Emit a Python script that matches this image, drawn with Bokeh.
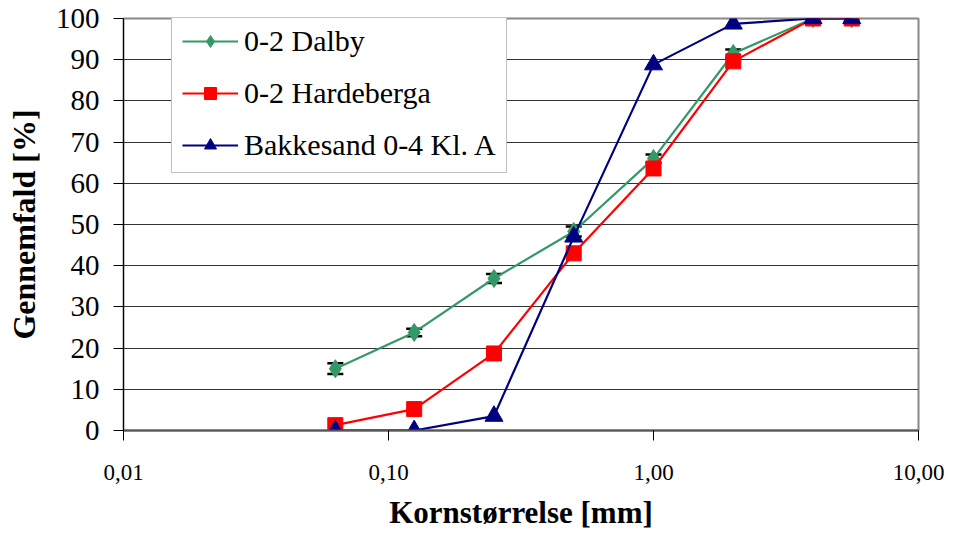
from bokeh.plotting import figure
from bokeh.models import (Range1d, FixedTicker, Legend, LegendItem, Whisker,
                          ColumnDataSource, TeeHead)
from bokeh.embed import file_html
from bokeh.resources import INLINE

sizes = [0.063, 0.125, 0.25, 0.5, 1.0, 2.0, 4.0, 5.6]
dalby = [15.0, 23.8, 36.9, 48.3, 66.0, 91.5, 100.0, 100.0]
dalby_err = [1.3, 0.9, 1.1, 1.2, 1.0, 1.0, 1.0, 1.0]
hardeberga = [1.3, 5.2, 18.7, 43.0, 63.6, 89.6, 100.0, 100.0]
bakkesand = [0.0, 0.0, 3.5, 47.0, 88.8, 98.7, 100.0, 100.0]

x_ticks = [0.01, 0.1, 1, 10]
x_tick_labels = ["0,01", "0,10", "1,00", "10,00"]
y_ticks = [0, 10, 20, 30, 40, 50, 60, 70, 80, 90, 100]

names = ["0-2 Dalby", "0-2 Hardeberga", "Bakkesand 0-4 Kl. A"]
colors = ["#339966", "#FF0000", "#000080"]

FONT = "Liberation Serif"

p = figure(width=956, height=535, x_axis_type="log",
           x_range=Range1d(0.01, 10), y_range=Range1d(0, 100),
           output_backend="svg", toolbar_location=None,
           min_border_left=123, min_border_right=38,
           min_border_top=18, min_border_bottom=105)
p.outline_line_color = "#888888"
p.outline_line_width = 2
p.background_fill_color = "white"
p.border_fill_color = "white"

p.xaxis.ticker = FixedTicker(ticks=x_ticks, minor_ticks=[])
p.xaxis.major_label_overrides = {t: l for t, l in zip(x_ticks, x_tick_labels)}
p.yaxis.ticker = FixedTicker(ticks=y_ticks, minor_ticks=[])
p.xgrid.visible = False
p.ygrid.ticker = FixedTicker(ticks=y_ticks)
p.ygrid.grid_line_color = "#333333"
p.ygrid.grid_line_width = 1

for ax in (p.xaxis[0], p.yaxis[0]):
    ax.major_tick_in = 0
    ax.major_tick_out = 10
    ax.minor_tick_in = 0
    ax.minor_tick_out = 0
    ax.major_label_text_font = FONT
    ax.axis_label_text_font = FONT
    ax.axis_label_text_font_style = "bold"
    ax.axis_label_text_color = "black"
    ax.major_label_text_color = "black"
    ax.major_tick_line_color = "black"

p.yaxis.axis_line_color = "black"
p.yaxis.axis_line_width = 1
p.xaxis.axis_line_color = "#555555"
p.xaxis.axis_line_width = 2

p.xaxis.axis_label = "Kornstørrelse [mm]"
p.yaxis.axis_label = "Gennemfald [%]"
p.xaxis.major_label_text_font_size = "23px"
p.yaxis.major_label_text_font_size = "29px"
p.xaxis.axis_label_text_font_size = "31px"
p.yaxis.axis_label_text_font_size = "32px"
p.xaxis.major_label_standoff = 24
p.yaxis.major_label_standoff = 14
p.xaxis.axis_label_standoff = 12
p.yaxis.axis_label_standoff = 11

# error bars for Dalby
lower = [v - e for v, e in zip(dalby, dalby_err)]
upper = [v + e for v, e in zip(dalby, dalby_err)]
esrc = ColumnDataSource(dict(x=sizes, lower=lower, upper=upper))
wh = Whisker(source=esrc, base="x", lower="lower", upper="upper",
             line_color="black", line_width=1,
             upper_head=TeeHead(size=16, line_color="black", line_width=2.5),
             lower_head=TeeHead(size=16, line_color="black", line_width=2.5))
p.add_layout(wh)

items = []
series = [dalby, hardeberga, bakkesand]
markers = ["diamond", "square", "triangle"]
msizes = [18, 15, 18]
for name, col, ys, mk, ms in zip(names, colors, series, markers, msizes):
    src = ColumnDataSource(dict(x=sizes, y=ys))
    lr = p.line("x", "y", source=src, line_color=col, line_width=2.2)
    sr = p.scatter("x", "y", source=src, marker=mk, size=ms,
                   fill_color=col, line_color=col)
    items.append(LegendItem(label=name, renderers=[lr, sr]))

legend = Legend(items=items, location=(48, 257))
legend.label_text_font = FONT
legend.label_text_font_size = "30px"
legend.label_text_color = "black"
legend.glyph_width = 56
legend.glyph_height = 30
legend.label_height = 30
legend.label_standoff = 6
legend.spacing = 18
legend.padding = 10
legend.margin = 0
legend.border_line_color = "#808080"
legend.border_line_width = 1.5
legend.background_fill_color = "white"
legend.background_fill_alpha = 1
p.add_layout(legend, "center")

open("out.html", "w").write(file_html(p, INLINE))
